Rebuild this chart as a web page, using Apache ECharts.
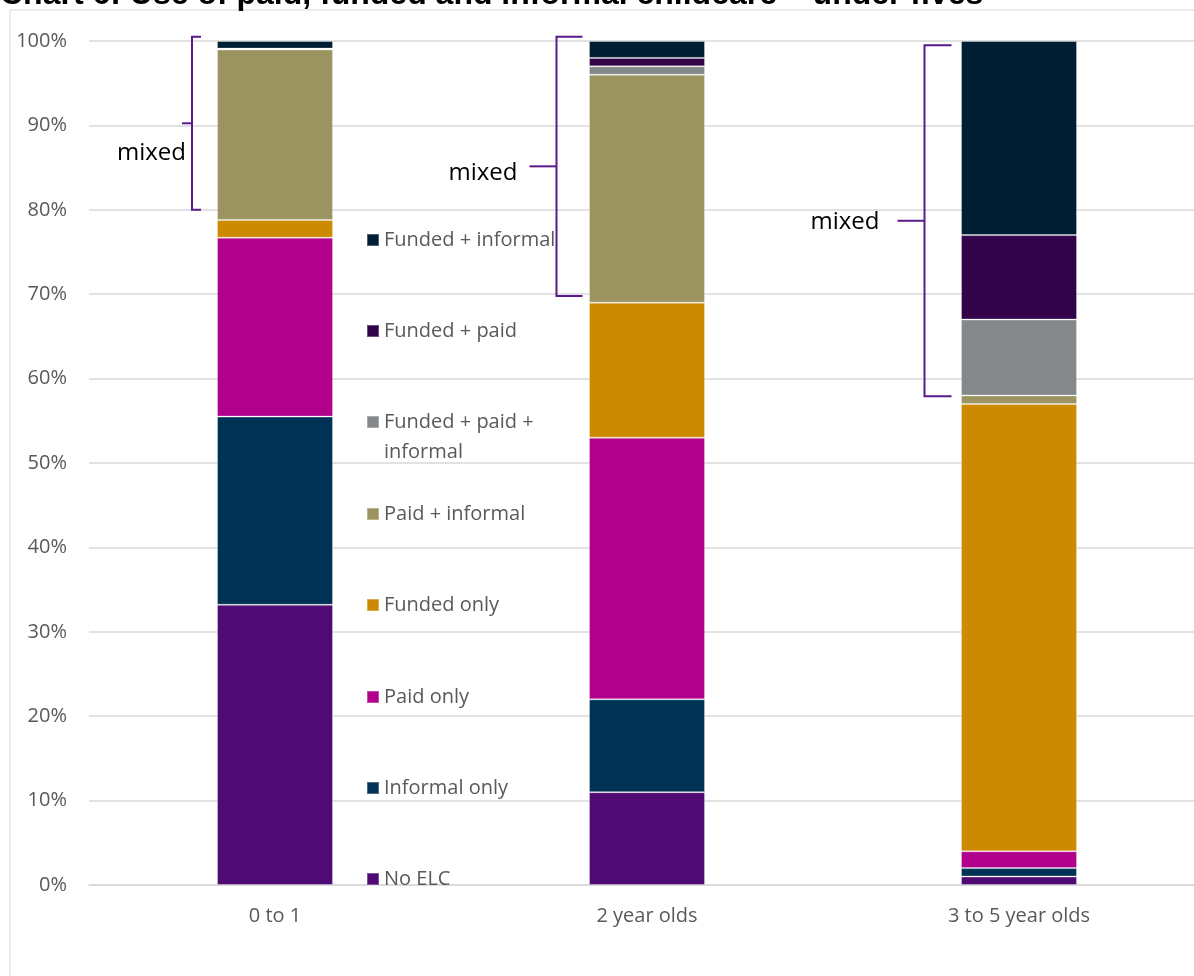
<!DOCTYPE html>
<html>
<head>
<meta charset="utf-8">
<script src="https://cdn.jsdelivr.net/npm/echarts@6/dist/echarts.min.js"></script>
<style>
  html, body { margin: 0; padding: 0; background: #fff; }
  #chart { width: 1194px; height: 976px; }
</style>
</head>
<body>
<div id="chart"></div>
<script>
// Use of early learning and childcare by age group (% of children)
const categories = ['0 to 1', '2 year olds', '3 to 5 year olds'];
const noElc              = [33.2, 11, 1];
const informalOnly       = [22.3, 11, 1];
const paidOnly           = [21.2, 31, 2];
const fundedOnly         = [2.1, 16, 53];
const paidInformal       = [20.2, 27, 1];
const fundedPaidInformal = [0.1, 1, 9];
const fundedPaid         = [0, 1, 10];
const fundedInformal     = [0.9, 2, 23];

// Span of the "mixed" bracket beside each bar (% scale)
const mixedLow  = [80, 69.8, 57.9];
const mixedHigh = [100.5, 100.5, 99.5];

const seriesDefs = [
  { name: 'No ELC',                   data: noElc,              color: '#500a74' },
  { name: 'Informal only',            data: informalOnly,       color: '#003256' },
  { name: 'Paid only',                data: paidOnly,           color: '#b1008c' },
  { name: 'Funded only',              data: fundedOnly,         color: '#cc8a00' },
  { name: 'Paid + informal',          data: paidInformal,       color: '#9c9460' },
  { name: 'Funded + paid + informal', data: fundedPaidInformal, color: '#85888a' },
  { name: 'Funded + paid',            data: fundedPaid,         color: '#320348' },
  { name: 'Funded + informal',        data: fundedInformal,     color: '#001e33' }
];

// Legend placement (marker centre y for each entry, top to bottom)
const legendOrder = ['Funded + informal', 'Funded + paid', 'Funded + paid + informal',
  'Paid + informal', 'Funded only', 'Paid only', 'Informal only', 'No ELC'];
const legendCenters = [240, 331, 422, 514, 605, 697, 788, 879];

// Bracket geometry relative to each bar centre
const bracketDx   = [-83, -90.5, -94.5];
const tickRight   = [9, 26, 27];
const tickLeft    = [10, 27, 27];
const labelDx     = [-6, -39, -45];
const labelDy     = [30, 7, 1];

const bracketColor = '#5a1a8c';
const textGrey = '#595959';
const fontFam = '"Open Sans", "Liberation Sans", Arial, sans-serif';

const chart = echarts.init(document.getElementById('chart'));

const legends = legendOrder.map((name, i) => {
  const twoLine = name === 'Funded + paid + informal';
  return {
    data: [name],
    left: 366,
    top: legendCenters[i] - (twoLine ? 45 : 15),
    orient: 'vertical',
    padding: 0,
    itemWidth: 12,
    itemHeight: 12,
    itemGap: 0,
    icon: 'rect',
    selectedMode: false,
    // the wrapped entry keeps its first line level with the marker
    formatter: n => n === 'Funded + paid + informal' ? ' \nFunded + paid +\ninformal' : n,
    textStyle: { color: textGrey, fontSize: 20, lineHeight: 30, fontFamily: fontFam }
  };
});

const barSeries = seriesDefs.map(s => ({
  name: s.name,
  type: 'bar',
  stack: 'total',
  barWidth: 116,
  data: s.data,
  itemStyle: { color: s.color, borderColor: 'rgba(255,255,255,0.3)', borderWidth: 1 },
  emphasis: { disabled: true }
}));

const bracketSeries = {
  name: 'mixed',
  type: 'custom',
  z: 10,
  silent: true,
  clip: false,
  data: categories.map((c, i) => [i, mixedLow[i], mixedHigh[i]]),
  renderItem: (params, api) => {
    const i = api.value(0);
    const xc = api.coord([i, 0])[0];
    const yTop = api.coord([i, api.value(2)])[1];
    const yBot = api.coord([i, api.value(1)])[1];
    const x = xc + bracketDx[i];
    const mid = (yTop + yBot) / 2;
    const lineStyle = { stroke: bracketColor, lineWidth: 2, fill: null };
    return {
      type: 'group',
      children: [
        { type: 'polyline', shape: { points: [[x + tickRight[i], yTop], [x, yTop], [x, yBot], [x + tickRight[i], yBot]] }, style: lineStyle },
        { type: 'line', shape: { x1: x - tickLeft[i], y1: mid, x2: x, y2: mid }, style: lineStyle },
        { type: 'text', x: x + labelDx[i], y: mid + labelDy[i],
          style: { text: 'mixed', fill: '#000', font: '24px ' + fontFam, align: 'right', verticalAlign: 'middle' } }
      ]
    };
  }
};

chart.setOption({
  backgroundColor: '#fff',
  animation: false,
  title: {
    text: 'Chart 6: Use of paid, funded and informal childcare – under fives',
    left: 0,
    top: -21,
    padding: 0,
    textStyle: { fontSize: 32, fontWeight: 'bold', color: '#000', fontFamily: '"Liberation Sans", Arial, sans-serif' }
  },
  graphic: [{
    type: 'rect',
    shape: { x: 10, y: 10, width: 1300, height: 1000 },
    style: { fill: null, stroke: '#d9d9d9', lineWidth: 1 },
    z: -10
  }],
  legend: legends,
  // the plot runs past the right edge of the page
  grid: { left: 89, top: 41, width: 1116, bottom: 91, containLabel: false, outerBoundsMode: 'none' },
  xAxis: {
    type: 'category',
    data: categories,
    axisTick: { show: false },
    axisLine: { lineStyle: { color: '#d9d9d9', width: 1.5 } },
    axisLabel: { color: textGrey, fontSize: 20, margin: 21, fontFamily: fontFam }
  },
  yAxis: {
    type: 'value',
    min: 0,
    max: 100,
    interval: 10,
    axisLabel: { formatter: '{value}%', color: textGrey, fontSize: 20, margin: 22, fontFamily: fontFam },
    splitLine: { lineStyle: { color: '#d9d9d9', width: 1.5 } },
    axisLine: { show: false },
    axisTick: { show: false }
  },
  series: [...barSeries, bracketSeries]
});
</script>
</body>
</html>
